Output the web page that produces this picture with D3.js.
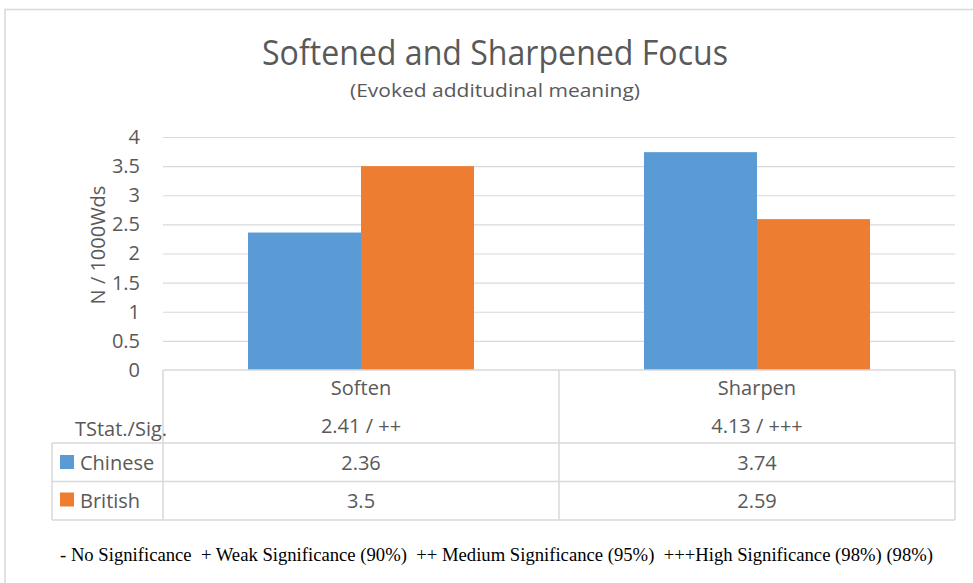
<!DOCTYPE html>
<html>
<head>
<meta charset="utf-8">
<script src="https://cdn.jsdelivr.net/npm/d3@7"></script>
<style>
  html, body { margin: 0; padding: 0; background: #fff; }
  svg { display: block; }
</style>
</head>
<body>
<svg id="chart" width="973" height="583"></svg>
<script>
// Chart data
const categories = ["Soften", "Sharpen"];
const seriesNames = ["Chinese", "British"];
const chineseValues = [2.36, 3.74];
const britishValues = [3.5, 2.59];
const tStatLabels = ["2.41 / ++", "4.13 / +++"];
const yTickValues = [0, 0.5, 1, 1.5, 2, 2.5, 3, 3.5, 4];
const seriesColors = ["#5B9BD5", "#ED7D31"];

const titleText = "Softened and Sharpened Focus";
const subtitleText = "(Evoked additudinal meaning)";
const yAxisTitle = "N / 1000Wds";
const tStatHeader = "TStat./Sig.";
const footnoteText = "- No Significance  + Weak Significance (90%)  ++ Medium Significance (95%)  +++High Significance (98%) (98%)";

const seriesValues = [chineseValues, britishValues];

const svg = d3.select("#chart");
const textColor = "#595959";
const lineColor = "#D9D9D9";
const font = "'Open Sans', 'Noto Sans', sans-serif";

// Plot area
const plot = { left: 163, right: 955, top: 137, bottom: 370 };

// Outer frame (top and left edges are inside the canvas)
svg.append("path")
  .attr("d", "M5,583 V9.5 H973")
  .attr("fill", "none")
  .attr("stroke", lineColor)
  .attr("stroke-width", 1.5);

// Title and subtitle
svg.append("text")
  .attr("x", 262).attr("y", 65)
  .attr("textLength", 466).attr("lengthAdjust", "spacingAndGlyphs")
  .attr("font-family", font).attr("font-size", 35)
  .attr("fill", textColor)
  .text(titleText);

svg.append("text")
  .attr("x", 350).attr("y", 96.5)
  .attr("textLength", 290).attr("lengthAdjust", "spacingAndGlyphs")
  .attr("font-family", font).attr("font-size", 19)
  .attr("fill", textColor)
  .text(subtitleText);

// Scales
const x = d3.scaleBand().domain(categories).range([plot.left, plot.right]).padding(0);
const xInner = d3.scaleBand().domain(seriesNames).range([0, x.bandwidth()]).paddingInner(0).paddingOuter(0.752);
const y = d3.scaleLinear().domain([0, 4]).range([plot.bottom, plot.top]);

// Gridlines + y tick labels
const yAxis = d3.axisLeft(y)
  .tickValues(yTickValues)
  .tickFormat(d3.format("~g"))
  .tickSize(-(plot.right - plot.left))
  .tickPadding(23);

const gy = svg.append("g")
  .attr("transform", `translate(${plot.left},0)`)
  .call(yAxis);
gy.select(".domain").remove();
gy.selectAll(".tick line")
  .attr("stroke", lineColor)
  .attr("stroke-width", 1.2)
  .filter(d => d === 0).remove();
gy.selectAll(".tick text")
  .attr("font-family", font)
  .attr("font-size", 20)
  .attr("fill", textColor);

// Y axis title
svg.append("text")
  .attr("transform", "translate(105,245) rotate(-90)")
  .attr("text-anchor", "middle")
  .attr("font-family", font).attr("font-size", 20)
  .attr("fill", textColor)
  .text(yAxisTitle);

// Bars
const groups = svg.append("g").selectAll("g")
  .data(seriesNames)
  .join("g")
  .attr("fill", (d, i) => seriesColors[i]);

groups.selectAll("rect")
  .data((s, si) => categories.map((c, ci) => ({ category: c, series: s, value: seriesValues[si][ci] })))
  .join("rect")
  .attr("x", d => x(d.category) + xInner(d.series))
  .attr("width", xInner.bandwidth())
  .attr("y", d => y(d.value))
  .attr("height", d => y(0) - y(d.value));

// Data table under the plot
const rowLines = [plot.bottom, 443, 481.5, 520];
const tableLeft = 52;
const table = svg.append("g")
  .attr("stroke", lineColor)
  .attr("stroke-width", 1.5)
  .attr("fill", "none");

table.append("line")
  .attr("x1", plot.left).attr("x2", plot.right)
  .attr("y1", rowLines[0]).attr("y2", rowLines[0]);
rowLines.slice(1).forEach(ry => {
  table.append("line")
    .attr("x1", tableLeft).attr("x2", plot.right)
    .attr("y1", ry).attr("y2", ry);
});
// Vertical separators at category band edges
const bandEdges = categories.map(c => x(c)).concat([plot.right]);
bandEdges.forEach(bx => {
  table.append("line")
    .attr("x1", bx).attr("x2", bx)
    .attr("y1", rowLines[0]).attr("y2", rowLines[3]);
});
table.append("line")
  .attr("x1", tableLeft).attr("x2", tableLeft)
  .attr("y1", rowLines[1]).attr("y2", rowLines[3]);

const cellText = svg.append("g")
  .attr("font-family", font)
  .attr("font-size", 20)
  .attr("fill", textColor);

// Category names and t-statistics
cellText.selectAll("text.cat")
  .data(categories)
  .join("text")
  .attr("class", "cat")
  .attr("x", c => x(c) + x.bandwidth() / 2)
  .attr("y", 395)
  .attr("text-anchor", "middle")
  .text(c => c);

cellText.selectAll("text.tstat")
  .data(tStatLabels)
  .join("text")
  .attr("class", "tstat")
  .attr("x", (t, i) => x(categories[i]) + x.bandwidth() / 2)
  .attr("y", 433)
  .attr("text-anchor", "middle")
  .text(t => t);

cellText.append("text")
  .attr("x", 75).attr("y", 436)
  .text(tStatHeader);

// Series rows: legend key, name and values
const rowBaselines = [470, 507.5];
seriesNames.forEach((s, si) => {
  svg.append("rect")
    .attr("x", 60)
    .attr("y", rowBaselines[si] - 15)
    .attr("width", 14).attr("height", 14)
    .attr("fill", seriesColors[si]);
  cellText.append("text")
    .attr("x", 80).attr("y", rowBaselines[si])
    .text(s);
  categories.forEach((c, ci) => {
    cellText.append("text")
      .attr("x", x(c) + x.bandwidth() / 2)
      .attr("y", rowBaselines[si])
      .attr("text-anchor", "middle")
      .text(String(seriesValues[si][ci]));
  });
});

// Significance key
svg.append("text")
  .attr("x", 60).attr("y", 561)
  .attr("xml:space", "preserve")
  .style("white-space", "pre")
  .attr("textLength", 873).attr("lengthAdjust", "spacingAndGlyphs")
  .attr("font-family", "'Liberation Serif', 'Times New Roman', serif")
  .attr("font-size", 19.5)
  .attr("fill", "#000")
  .text(footnoteText);
</script>
</body>
</html>
